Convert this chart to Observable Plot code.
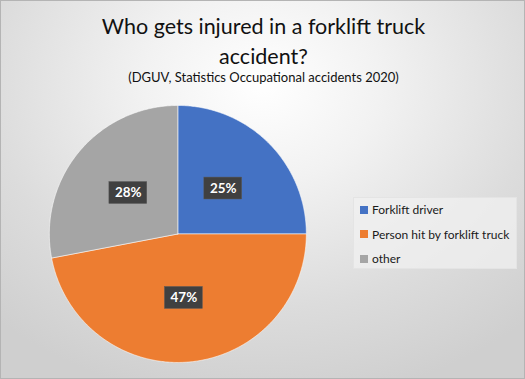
<!DOCTYPE html>
<html>
<head>
<meta charset="utf-8">
<script src="https://cdn.jsdelivr.net/npm/d3@7"></script>
<script src="https://cdn.jsdelivr.net/npm/@observablehq/plot@0.6"></script>
<style>
  html, body { margin: 0; padding: 0; }
  #chart {
    position: relative; width: 525px; height: 379px; box-sizing: border-box;
    border: 1px solid #b4b4b4; overflow: hidden;
    background: radial-gradient(ellipse 75% 85% at 50% 22%, #ffffff 0%, #f2f2f2 30%, #dcdcdc 70%, #cfcfcf 100%);
    font-family: Lato, "Open Sans", sans-serif; color: #1a1a1a;
  }
  #title { position: absolute; left: 0; width: 525px; top: 10px; text-align: center;
    font-size: 21.5px; line-height: 30px; color: #111; }
  #subtitle { position: absolute; left: 0; width: 525px; top: 68px; text-align: center;
    font-size: 13px; color: #111; }
  #plot { position: absolute; left: 0; top: 95px; }
  #legend { position: absolute; left: 352px; top: 196px; width: 164px; height: 72px;
    box-sizing: border-box; background: rgba(240,240,240,0.75); border: 1px solid #e4e4e4;
    font-size: 12px; color: #1a1a1a; }
  #legend .item { position: absolute; left: 6px; display: flex; align-items: center; white-space: nowrap; }
  #legend .sw { width: 8px; height: 8px; margin-right: 4px; }
</style>
</head>
<body>
<div id="chart">
  <div id="title">Who gets injured in a forklift truck<br>accident?</div>
  <div id="subtitle">(DGUV, Statistics Occupational accidents 2020)</div>
  <div id="plot"></div>
  <div id="legend"></div>
</div>
<script>
const categories = ["Forklift driver", "Person hit by forklift truck", "other"];
const values = [25, 47, 28];
const labels = ["25%", "47%", "28%"];
const colors = ["#4472C4", "#ED7D31", "#A5A5A5"];

const pie = d3.pie().sort(null).value(d => d.value)(
  categories.map((c, i) => ({category: c, value: values[i], label: labels[i]}))
);

// polygon outline per slice, in unit-circle coordinates (angle 0 at top, clockwise)
const outline = [];
for (const s of pie) {
  outline.push({category: s.data.category, x: 0, y: 0});
  const n = Math.max(2, Math.ceil((s.endAngle - s.startAngle) / 0.01));
  for (let k = 0; k <= n; k++) {
    const a = s.startAngle + (s.endAngle - s.startAngle) * k / n;
    outline.push({category: s.data.category, x: Math.sin(a), y: Math.cos(a)});
  }
  outline.push({category: s.data.category, x: 0, y: 0});
}
const centroids = pie.map(s => {
  const a = (s.startAngle + s.endAngle) / 2;
  return {category: s.data.category, label: s.data.label, x: 0.5 * Math.sin(a), y: 0.5 * Math.cos(a)};
});

const R = 129;
const boxW = 19 / R, boxH = 11 / R;

const plot = Plot.plot({
  width: 525, height: 284,
  marginLeft: 48, marginRight: 525 - 48 - 2 * R,
  marginTop: 9, marginBottom: 284 - 9 - 2 * R,
  x: {domain: [-1, 1], axis: null},
  y: {domain: [-1, 1], axis: null},
  color: {domain: categories, range: colors},
  style: {background: "transparent", overflow: "visible"},
  marks: [
    Plot.line(outline, {x: "x", y: "y", z: "category", fill: "category", stroke: "#ffffff",
      strokeWidth: 0.8, strokeOpacity: 0.7, curve: "linear",
      style: "filter: drop-shadow(0px 2px 4px rgba(0,0,0,0.25))"}),
    Plot.rect(centroids, {x1: d => d.x - boxW, x2: d => d.x + boxW, y1: d => d.y - boxH, y2: d => d.y + boxH,
      fill: "#404040", stroke: "#5a5a5a", strokeWidth: 0.5,
      style: "filter: drop-shadow(2px 2px 2px rgba(0,0,0,0.45))"}),
    Plot.text(centroids, {x: "x", y: "y", text: "label", fill: "white", fontSize: 13.5,
      fontWeight: "bold", fontFamily: "Lato, 'Open Sans', sans-serif"})
  ]
});
document.getElementById("plot").appendChild(plot);

const legend = document.getElementById("legend");
categories.forEach((c, i) => {
  const item = document.createElement("div");
  item.className = "item";
  item.style.top = (4 + i * 24.5) + "px";
  item.innerHTML = `<span class="sw" style="background:${colors[i]}"></span><span>${c}</span>`;
  legend.appendChild(item);
});
</script>
</body>
</html>
